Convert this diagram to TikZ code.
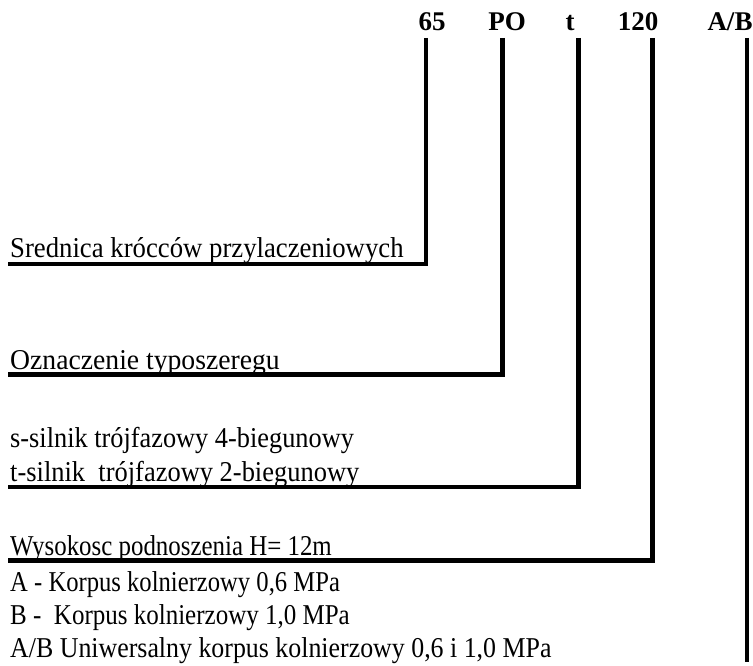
\documentclass[tikz,border=0pt]{standalone}
\usepackage{graphicx}
\usepackage{fontspec}
\setmainfont{Liberation Serif}
\newcommand\vstr[2][1]{\scalebox{#1}[1.08]{#2}}
\begin{document}
\begin{tikzpicture}[x=1pt,y=-1pt,
  code/.style={font=\fontsize{27}{30}\selectfont\bfseries, inner sep=0pt, anchor=base},
  desc/.style={font=\fontsize{26.6}{30}\selectfont, inner sep=0pt, anchor=base west},
  lead/.style={line width=4.5pt, line join=miter}]
\useasboundingbox (0,0) rectangle (753,666);
% code labels
\node[code] (c65) at (432,31) {65};
\node[code] (cPO) at (507,31) {PO};
\node[code] (ct) at (570,31) {t};
\node[code] (c120) at (638,31) {120};
\node[code] (cAB) at (730,31) {A/B};
% leader start points
\coordinate (s65) at (426,38);
\coordinate (sPO) at (502.5,38);
\coordinate (st) at (578.5,38);
\coordinate (s120) at (652.5,38);
\coordinate (sAB) at (747,38);
% leader ends
\coordinate (e65) at (8,264);
\coordinate (ePO) at (8,374.5);
\coordinate (et) at (8,487);
\coordinate (e120) at (8,560.5);
\coordinate (eAB) at (747,662);
\draw[lead] (s65) |- (e65);
\draw[lead] (sPO) |- (ePO);
\draw[lead] (st) |- (et);
\draw[lead] (s120) |- (e120);
\draw[lead] (sAB) -- (eAB);
% descriptions
\node[desc] (d1) at (10,258) {\vstr[1.005]{Srednica krócców przylaczeniowych}};
\node[desc] (d2) at (10,369) {\vstr[1.04]{Oznaczenie typoszeregu}};
\node[desc] (d3a) at (10,447) {\vstr[0.99]{s-silnik trójfazowy 4-biegunowy}};
\node[desc] (d3b) at (10,481) {\vstr[0.995]{t-silnik\ \ trójfazowy 2-biegunowy}};
\node[desc] (d4) at (10,555) {\vstr[0.936]{Wysokosc podnoszenia H= 12m}};
\node[desc] (d5a) at (10,591) {\vstr[0.926]{A - Korpus kolnierzowy 0,6 MPa}};
\node[desc] (d5b) at (10,624) {\vstr[0.94]{B -\ \ Korpus kolnierzowy 1,0 MPa}};
\node[desc] (d5c) at (10,657) {\vstr[0.973]{A/B Uniwersalny korpus kolnierzowy 0,6 i 1,0 MPa}};
\end{tikzpicture}
\end{document}
